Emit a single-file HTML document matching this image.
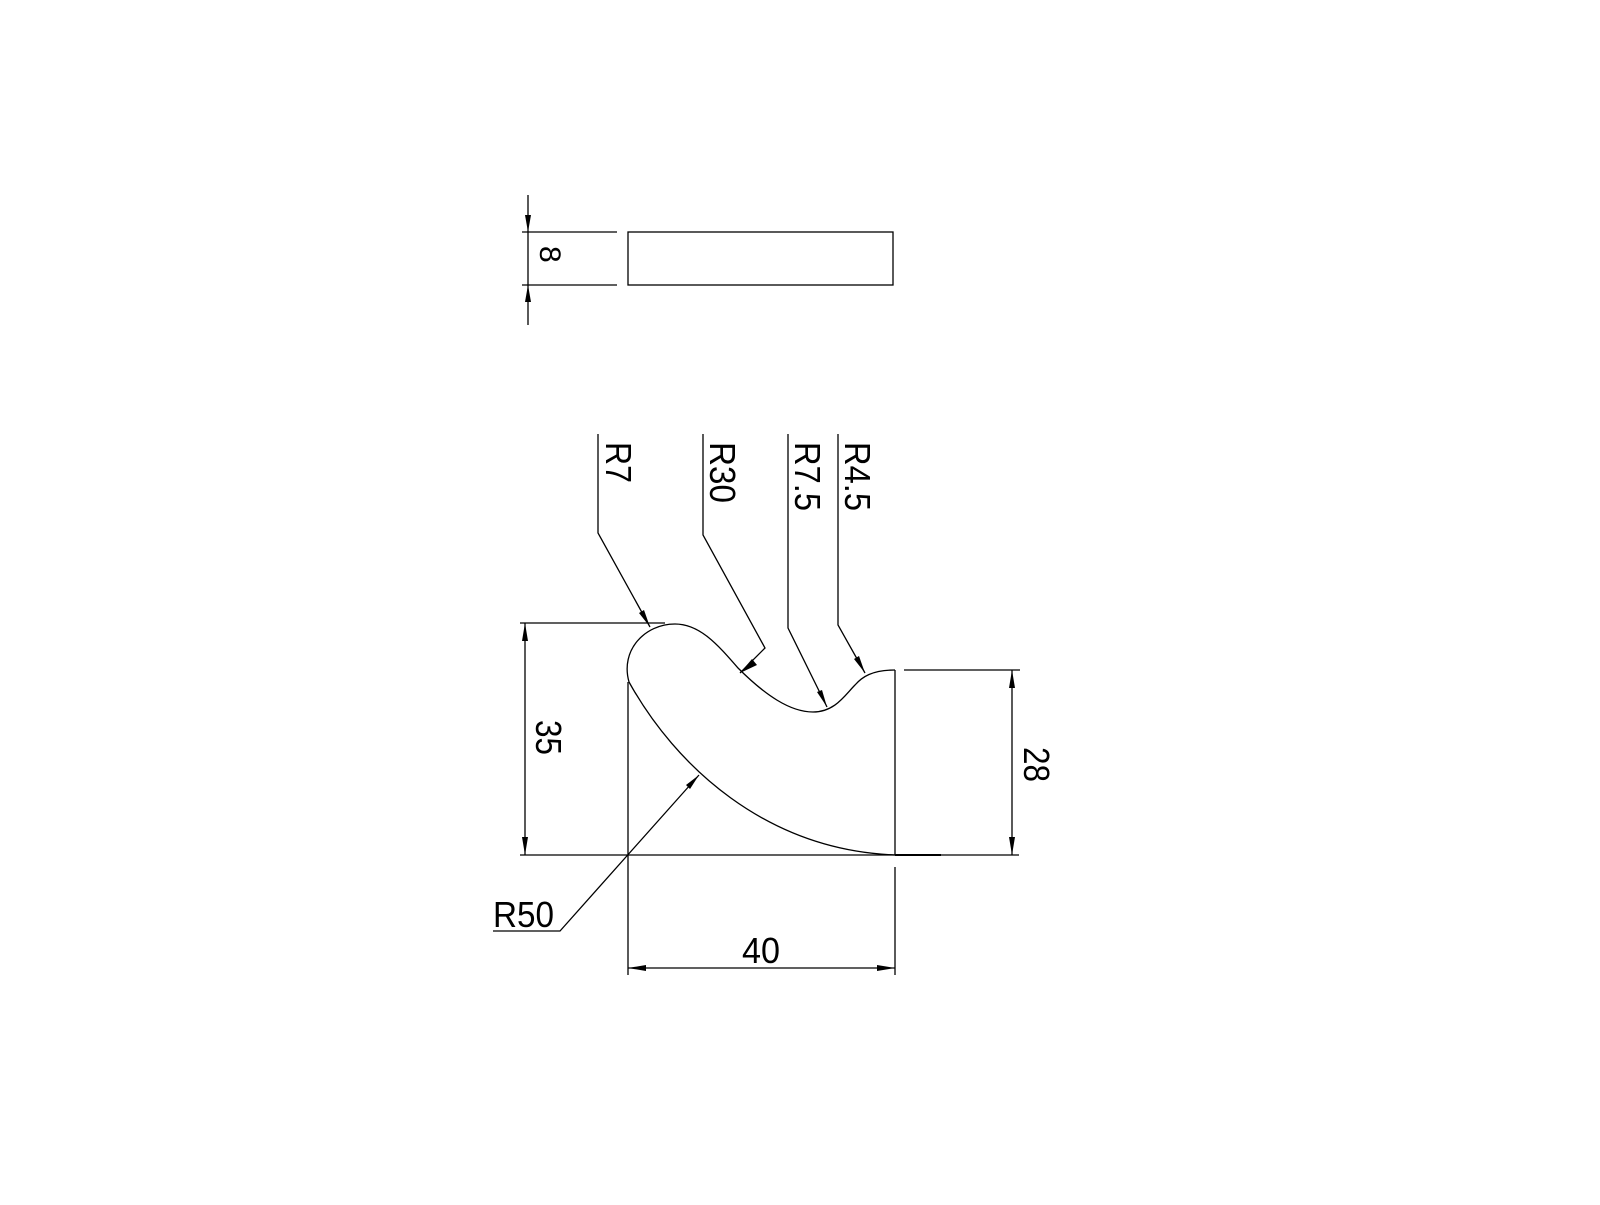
<!DOCTYPE html>
<html><head><style>html,body{margin:0;padding:0;background:#fff}</style></head>
<body>
<svg width="1600" height="1200" viewBox="0 0 1600 1200" xmlns="http://www.w3.org/2000/svg" font-family="Liberation Sans, Arial, sans-serif">
<rect width="1600" height="1200" fill="#fff"/>
<g stroke="#000" stroke-width="1.3" fill="none">
<!-- top view -->
<rect x="628" y="232" width="265" height="53"/>
<line x1="522" y1="232" x2="617" y2="232"/>
<line x1="522" y1="285" x2="617" y2="285"/>
<line x1="528" y1="195" x2="528" y2="325"/>
<!-- main shape -->
<path d="M629,682 C620,650 645,624 675,624 C700,624 718,645 738,668 C765,695 790,712 813,712 C835,712 845,695 855,685 C862,677 872,670 895,670"/>
<path d="M629,682 C675,765 765,850 895,855"/>
<line x1="895" y1="855" x2="941" y2="855" stroke-width="2"/>
<line x1="628" y1="682" x2="628" y2="975"/>
<line x1="895" y1="670" x2="895" y2="855"/>
<line x1="895" y1="867" x2="895" y2="975"/>
<line x1="520" y1="855" x2="1019" y2="855"/>
<line x1="520" y1="623" x2="665" y2="623"/>
<line x1="525" y1="623" x2="525" y2="855"/>
<line x1="904" y1="670" x2="1020" y2="670"/>
<line x1="1012" y1="670" x2="1012" y2="855"/>
<line x1="628" y1="968" x2="895" y2="968"/>
<!-- leaders -->
<polyline points="598,434 598,533 650,627"/>
<polyline points="703,434 703,535 765,648 740,673"/>
<polyline points="788,434 788,628 827,707"/>
<polyline points="838,434 838,625 865,673"/>
<polyline points="493,931 560,931 699,775"/>
</g>
<g fill="#000">
<polygon points="528,232 525,215 531,215"/>
<polygon points="528,285 525,302 531,302"/>
<polygon points="525,623 522,641 528,641"/>
<polygon points="525,855 522,837 528,837"/>
<polygon points="1012,670 1009,688 1015,688"/>
<polygon points="1012,855 1009,837 1015,837"/>
<polygon points="628,968 646,965 646,971"/>
<polygon points="895,968 877,965 877,971"/>
<polygon points="650,627 639,613 644,610"/>
<polygon points="740,673 752,659 757,665"/>
<polygon points="827,707 817,692 822,690"/>
<polygon points="865,673 854,659 859,656"/>
<polygon points="699,775 686,785 690,789"/>
</g>
<g font-size="36" fill="#000">
<text transform="translate(606,442) rotate(90)" textLength="41" lengthAdjust="spacingAndGlyphs">R7</text>
<text transform="translate(710,442) rotate(90)" textLength="61" lengthAdjust="spacingAndGlyphs">R30</text>
<text transform="translate(795,442) rotate(90)" textLength="69" lengthAdjust="spacingAndGlyphs">R7.5</text>
<text transform="translate(845,442) rotate(90)" textLength="69" lengthAdjust="spacingAndGlyphs">R4.5</text>
<text transform="translate(540,246) rotate(90)" font-size="30">8</text>
<text transform="translate(536,720) rotate(90)" textLength="35" lengthAdjust="spacingAndGlyphs">35</text>
<text transform="translate(1024,747) rotate(90)" textLength="35" lengthAdjust="spacingAndGlyphs">28</text>
<text x="493" y="927" textLength="61" lengthAdjust="spacingAndGlyphs">R50</text>
<text x="742" y="963" textLength="38" lengthAdjust="spacingAndGlyphs">40</text>
</g>
</svg>
</body></html>
